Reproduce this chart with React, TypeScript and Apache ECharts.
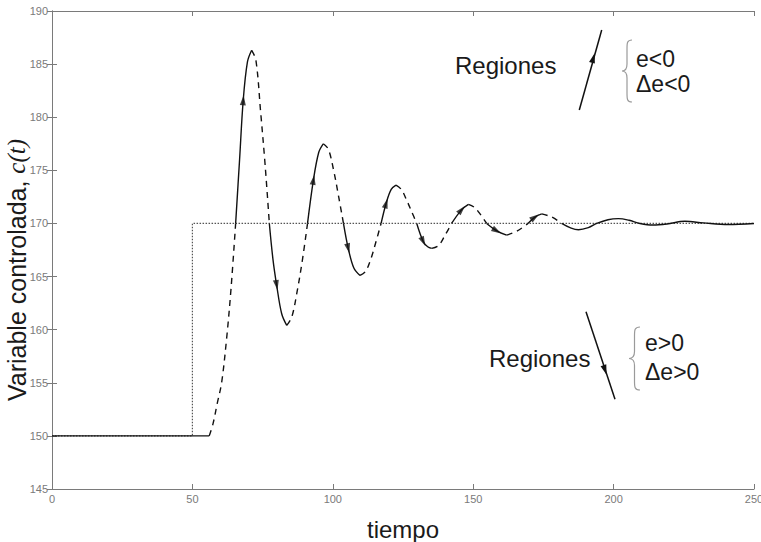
import React, { useEffect, useRef } from "react";
import * as echarts from "echarts";

// ---- axis ranges / ticks ----
const X_MIN = 0;
const X_MAX = 250;
const X_STEP = 50;
const Y_MIN = 145;
const Y_MAX = 190;
const Y_STEP = 5;

// ---- setpoint (dotted step) ----
const setpointT = [0, 50, 50, 250];
const setpointC = [150, 150, 170, 170];

// ---- controlled variable c(t) ----
const curveT = [
  0, 56, 57.4, 58.8, 60.4, 62.2, 63.8, 65.4, 66.8, 68.1, 69.6, 71.1, 72.6, 74.3, 75.9, 77.4,
  78.7, 80, 81.8, 83.6, 85.4, 87.3, 89.2, 91, 93.1, 95, 96.6, 98.4, 100.3, 102.1, 103.8,
  105.5, 107.5, 109.7, 111.7, 113.6, 115.4, 117.2, 119, 120.8, 122.5, 124.4, 126.3, 128.1,
  129.9, 132.2, 133.8, 135.2, 137.6, 140, 142.3, 145.9, 148.3, 150.5, 152.7, 154.8, 158.4,
  161.9, 165.7, 169.5, 172, 174.4, 178, 181.5, 184.5, 187.5, 191, 194, 198, 201.7, 205.5,
  209.4, 214, 219, 225.4, 232, 240.8, 250,
];
const curveC = [
  150, 150, 151.2, 153, 155, 159.2, 164, 170, 176, 181.6, 185.2, 186.3, 185.4, 180.5, 175.5, 170,
  166.6, 164.2, 161.5, 160.4, 161.2, 163.6, 166.6, 170, 174.1, 176.7, 177.5, 177, 175, 172.5, 170,
  167.65, 165.8, 165.1, 165.5, 166.7, 168.3, 170, 171.9, 173.2, 173.6, 173.2, 172.2, 171.1,
  170, 168.3, 167.8, 167.65, 167.9, 168.9, 170, 171.3, 171.8, 171.5, 170.8, 170, 169.3,
  168.9, 169.3, 170, 170.6, 170.9, 170.6, 170, 169.6, 169.4, 169.6, 170, 170.35, 170.45, 170.3,
  170, 169.85, 169.95, 170.2, 170.05, 169.9, 170,
];

// times where the curve switches between solid and dashed
const styleBreaksT = [
  56, 65.4, 71.1, 77.4, 83.6, 91, 96.6, 103.8, 109.7, 117.2, 122.5, 129.9, 135.2, 142.3,
  148.3, 154.8, 161.9, 169.5, 174.4, 181.5,
];
// times where direction arrows sit on the curve
const arrowT = [68.1, 80, 93.1, 105.5, 119, 132.2, 145.9, 158.4, 172];

// ---- texts ----
const xAxisTitle = "tiempo";
const yAxisTitleMain = "Variable controlada, ";
const yAxisTitleItalic = "c(t)";
const regionLabel = "Regiones";
const regionUpper = ["e<0", "\u0394e<0"];
const regionLower = ["e>0", "\u0394e>0"];

// ---- brace shapes for the annotations ----
function bracePath(x: number, y: number, w: number, h: number) {
  const m = y + h / 2;
  const xm = x + w * 0.5;
  return (
    `M${x + w},${y} C${xm},${y} ${xm},${y + 3} ${xm},${y + 9} L${xm},${m - 7} ` +
    `C${xm},${m - 2} ${x + w * 0.25},${m} ${x},${m} ` +
    `C${x + w * 0.25},${m} ${xm},${m + 2} ${xm},${m + 7} L${xm},${y + h - 9} ` +
    `C${xm},${y + h - 3} ${xm},${y + h} ${x + w},${y + h}`
  );
}
echarts.graphic.registerShape("braceUpper", echarts.graphic.extendPath(bracePath(622, 40, 10, 62), {}));
echarts.graphic.registerShape("braceLower", echarts.graphic.extendPath(bracePath(629, 327, 11, 63), {}));

function arrowHead(cx: number, cy: number, dx: number, dy: number, len = 10, half = 3) {
  const L = Math.hypot(dx, dy);
  const ux = dx / L;
  const uy = dy / L;
  const nx = -uy;
  const ny = ux;
  const tip = [cx + (ux * len) / 2, cy + (uy * len) / 2];
  const bx = cx - (ux * len) / 2;
  const by = cy - (uy * len) / 2;
  return [tip, [bx + nx * half, by + ny * half], [bx - nx * half, by - ny * half]];
}

const INK = "#111";
const TEXT = "#1a1a1a";
const AXIS = "#7a7a7a";
const SANS = "'Liberation Sans', Arial, sans-serif";

export default function App() {
  const ref = useRef<HTMLDivElement>(null);

  useEffect(() => {
    document.body.style.margin = "0";
    if (!ref.current) return;
    const chart = echarts.init(ref.current, null, { renderer: "svg" });

    // split the curve into alternately solid / dashed segments
    const bounds = [0, ...styleBreaksT.map((t) => curveT.indexOf(t)), curveT.length - 1];
    const curveSeries: any[] = [];
    for (let s = 0; s < bounds.length - 1; s++) {
      const pts: number[][] = [];
      for (let i = bounds[s]; i <= bounds[s + 1]; i++) pts.push([curveT[i], curveC[i]]);
      curveSeries.push({
        type: "line",
        data: pts,
        smooth: 0.35,
        showSymbol: false,
        silent: true,
        z: 3,
        lineStyle: { color: INK, width: 1.4, type: s % 2 === 0 ? "solid" : [6, 5] },
      });
    }

    const setpoint = setpointT.map((t, i) => [t, setpointC[i]]);

    const axisCommon = {
      type: "value",
      axisLine: { show: true, lineStyle: { color: AXIS, width: 1 } },
      axisTick: { show: true, inside: true, length: 5, lineStyle: { color: AXIS } },
      splitLine: { show: false },
    };

    const upperLine = arrowHead(593.3, 58, 601.7 - 579.3, 30 - 110);
    const lowerLine = arrowHead(605, 370, 615 - 586, 399.3 - 311.7);

    const option: any = {
      animation: false,
      backgroundColor: "#ffffff",
      grid: { left: 52, right: 7, top: 11, bottom: 53, containLabel: false, outerBoundsMode: "none" },
      xAxis: [
        {
          ...axisCommon,
          min: X_MIN,
          max: X_MAX,
          interval: X_STEP,
          position: "bottom",
          axisLabel: { color: AXIS, fontSize: 11, fontFamily: SANS, margin: 4 },
          name: xAxisTitle,
          nameLocation: "middle",
          nameGap: 28,
          nameTextStyle: { color: TEXT, fontSize: 24, fontFamily: SANS },
        },
        {
          ...axisCommon,
          min: X_MIN,
          max: X_MAX,
          interval: X_STEP,
          position: "top",
          axisLabel: { show: false },
        },
      ],
      yAxis: [
        {
          ...axisCommon,
          min: Y_MIN,
          max: Y_MAX,
          interval: Y_STEP,
          position: "left",
          axisLabel: { color: AXIS, fontSize: 11, fontFamily: SANS, margin: 4 },
        },
        {
          ...axisCommon,
          min: Y_MIN,
          max: Y_MAX,
          interval: Y_STEP,
          position: "right",
          axisLabel: { show: false },
        },
      ],
      series: [
        {
          type: "line",
          data: setpoint,
          showSymbol: false,
          silent: true,
          z: 2,
          lineStyle: { color: "#555", width: 1.2, type: [1.5, 1.5] },
        },
        ...curveSeries,
        {
          id: "arrows",
          type: "scatter",
          data: [],
          symbol: "triangle",
          symbolSize: [6, 10],
          silent: true,
          z: 4,
          itemStyle: { color: INK },
        },
      ],
      graphic: [
        // y-axis title (rotated)
        {
          type: "text",
          x: 29,
          y: 270,
          rotation: Math.PI / 2,
          style: {
            text: `{a|${yAxisTitleMain}}{b|${yAxisTitleItalic}}`,
            align: "center",
            verticalAlign: "bottom",
            rich: {
              a: { fill: TEXT, fontSize: 25, fontFamily: SANS },
              b: { fill: TEXT, fontSize: 25, fontFamily: "'Liberation Serif', serif", fontStyle: "italic" },
            },
          },
        },
        // upper annotation
        { type: "text", x: 455, y: 65, style: { text: regionLabel, fontSize: 24, fontFamily: SANS, fill: TEXT, align: "left", verticalAlign: "middle" } },
        { type: "line", shape: { x1: 579.3, y1: 110, x2: 601.7, y2: 30 }, style: { stroke: INK, lineWidth: 1.5 } },
        { type: "polygon", shape: { points: upperLine }, style: { fill: INK } },
        { type: "braceUpper", style: { stroke: "#9a9a9a", fill: "none", lineWidth: 1.2 } },
        { type: "text", x: 636, y: 59, style: { text: regionUpper[0], fontSize: 23, fontFamily: SANS, fill: TEXT, align: "left", verticalAlign: "middle" } },
        { type: "text", x: 636, y: 84, style: { text: regionUpper[1], fontSize: 23, fontFamily: SANS, fill: TEXT, align: "left", verticalAlign: "middle" } },
        // lower annotation
        { type: "text", x: 489, y: 358, style: { text: regionLabel, fontSize: 24, fontFamily: SANS, fill: TEXT, align: "left", verticalAlign: "middle" } },
        { type: "line", shape: { x1: 586, y1: 311.7, x2: 615, y2: 399.3 }, style: { stroke: INK, lineWidth: 1.5 } },
        { type: "polygon", shape: { points: lowerLine }, style: { fill: INK } },
        { type: "braceLower", style: { stroke: "#9a9a9a", fill: "none", lineWidth: 1.2 } },
        { type: "text", x: 645, y: 343, style: { text: regionLower[0], fontSize: 23, fontFamily: SANS, fill: TEXT, align: "left", verticalAlign: "middle" } },
        { type: "text", x: 645, y: 372, style: { text: regionLower[1], fontSize: 23, fontFamily: SANS, fill: TEXT, align: "left", verticalAlign: "middle" } },
      ],
    };

    chart.setOption(option);

    // orient arrowheads along the curve using the chart's own scales
    const arrowData = arrowT.map((t) => {
      const i = curveT.indexOf(t);
      const p0 = chart.convertToPixel({ gridIndex: 0 }, [curveT[i - 1], curveC[i - 1]]) as number[];
      const p1 = chart.convertToPixel({ gridIndex: 0 }, [curveT[i + 1], curveC[i + 1]]) as number[];
      const dx = p1[0] - p0[0];
      const dy = p1[1] - p0[1];
      const rot = (Math.atan2(-dx, -dy) * 180) / Math.PI;
      return { value: [t, curveC[i]], symbolRotate: rot };
    });
    chart.setOption({ series: [{ id: "arrows", data: arrowData }] });

    return () => chart.dispose();
  }, []);

  return <div ref={ref} style={{ width: 761, height: 542 }} />;
}
